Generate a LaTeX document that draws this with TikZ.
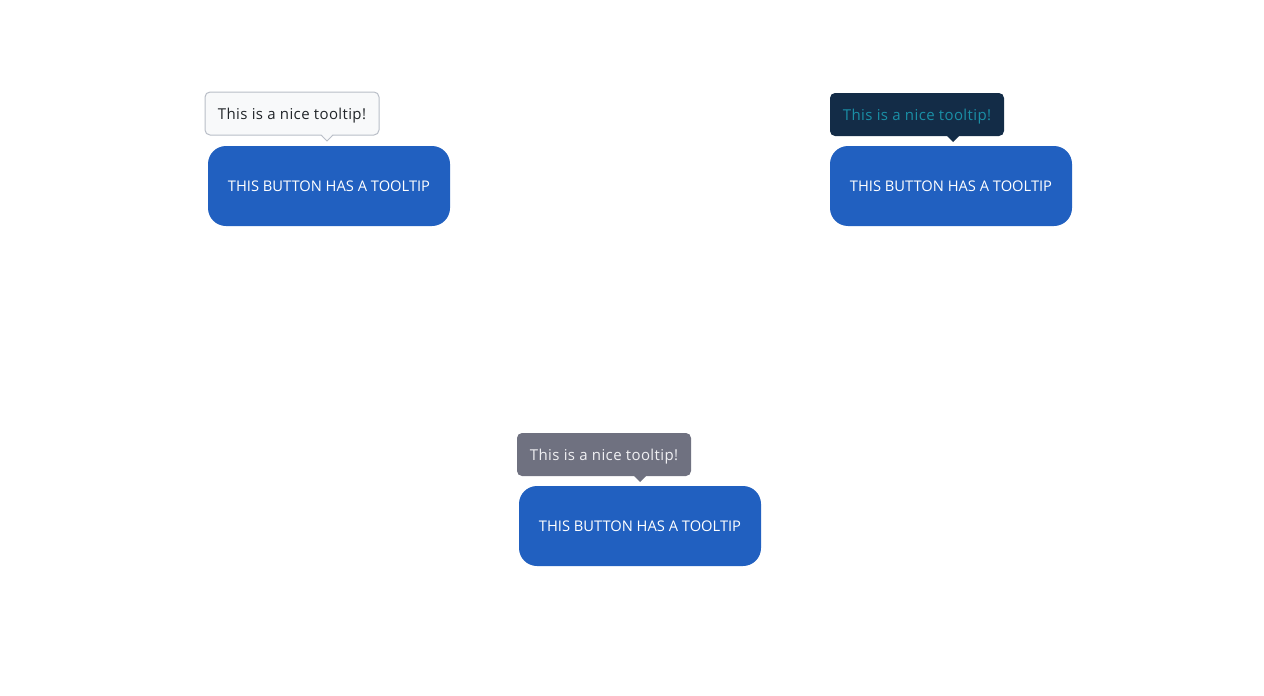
\documentclass[tikz,border=0pt]{standalone}
\usepackage{fontspec}
\setmainfont{Open Sans}
\newfontfamily\tipfont[LetterSpace=2.5]{Open Sans}
\usetikzlibrary{backgrounds,calc}
\pgfdeclarelayer{edgelayer}
\pgfdeclarelayer{nodelayer}
\pgfsetlayers{edgelayer,nodelayer,main}
\definecolor{btnblue}{HTML}{2160C0}
\definecolor{lightfill}{HTML}{F8F9FA}
\definecolor{lightline}{HTML}{B9BEC7}
\definecolor{lighttext}{HTML}{212529}
\definecolor{darkfill}{HTML}{132C47}
\definecolor{darktext}{HTML}{1A8FA6}
\definecolor{greyfill}{HTML}{6F7180}
\definecolor{greytext}{HTML}{F0F0F3}
\tikzset{font=\fontsize{14.7}{17}\selectfont}
\tikzstyle{btn}=[fill=btnblue,text=white,rounded corners=18pt,minimum width=242pt,minimum height=80pt,inner sep=0pt]
\tikzstyle{tip}=[rounded corners=5pt,minimum width=174pt,minimum height=43pt,inner sep=0pt,text depth=0pt,font=\tipfont\fontsize{15}{17}\selectfont]
\tikzstyle{tiplight}=[tip,fill=lightfill,draw=lightline,line width=1pt,text=lighttext]
\tikzstyle{tipdark}=[tip,fill=darkfill,text=darktext]
\tikzstyle{tipgrey}=[tip,fill=greyfill,text=greytext]

\begin{document}
\begin{tikzpicture}[x=1pt,y=-1pt]
	\useasboundingbox (0,0) rectangle (1264,696);
	\begin{pgfonlayer}{nodelayer}
		\node [style=btn] (b1) at (329, 186) {THIS BUTTON HAS A TOOLTIP};
		\node [style=btn] (b2) at (951, 186) {THIS BUTTON HAS A TOOLTIP};
		\node [style=btn] (b3) at (640, 526) {THIS BUTTON HAS A TOOLTIP};
		\node [style=tiplight] (t1) at (292, 113.5) {This is a nice tooltip!};
		\node [style=tipdark] (t2) at (917, 114.5) {This is a nice tooltip!};
		\node [style=tipgrey] (t3) at (604, 454.5) {This is a nice tooltip!};
		\coordinate (a1) at (327, 141);
		\coordinate (a2) at (953, 142);
		\coordinate (a3) at (640, 482);
	\end{pgfonlayer}
	% little arrows under the tooltips
	\fill[lightfill] ($(a1)+(-6,-7)$) -- (a1) -- ($(a1)+(6,-7)$) -- cycle;
	\draw[lightline,line width=1pt] ($(a1)+(-6,-6)$) -- (a1) -- ($(a1)+(6,-6)$);
	\fill[darkfill] ($(a2)+(-7,-7)$) -- (a2) -- ($(a2)+(7,-7)$) -- cycle;
	\fill[greyfill] ($(a3)+(-7,-7)$) -- (a3) -- ($(a3)+(7,-7)$) -- cycle;
\end{tikzpicture}
\end{document}
